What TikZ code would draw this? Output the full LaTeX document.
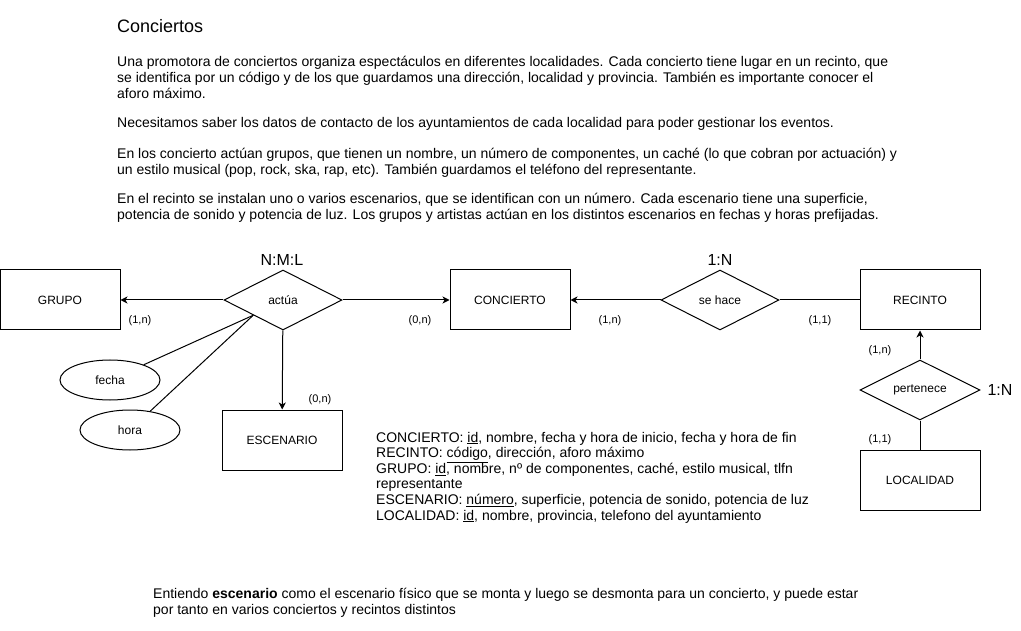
\documentclass[tikz,border=0pt]{standalone}
\usepackage{fontspec}
\setmainfont{Liberation Sans}
\usetikzlibrary{arrows.meta,calc,shapes.geometric}
\tikzset{
  entidad/.style={draw,line width=1pt,minimum width=120pt,minimum height=60pt,inner sep=0pt,font=\fontsize{12}{14}\selectfont},
  relacion/.style={draw,diamond,aspect=2,line width=1pt,minimum width=118pt,minimum height=60pt,inner sep=0pt,font=\fontsize{12}{14}\selectfont},
  atributo/.style={draw,ellipse,line width=1pt,minimum width=100pt,minimum height=40pt,inner sep=0pt,font=\fontsize{12}{14}\selectfont},
  card/.style={font=\fontsize{11}{13}\selectfont,inner sep=0pt},
  tipo/.style={font=\fontsize{16}{19}\selectfont,inner sep=0pt},
  flecha/.style={line width=1pt,-{Stealth[length=7pt,width=7pt,inset=2pt]}},
  linea/.style={line width=1pt},
  % anchor base = baseline of the last line
  texto/.style={font=\fontsize{14}{16}\selectfont,align=left,anchor=base west,inner sep=0pt}
}

\begin{document}
\begin{tikzpicture}[x=1pt,y=-1pt]
\useasboundingbox (0,0) rectangle (1021,631);
% enunciado
\node[font=\fontsize{18}{21}\selectfont,anchor=base west,inner sep=0pt] (titulo) at (117,33) {Conciertos};
\node[texto] (p1) at (117,99) {Una promotora de conciertos organiza espectáculos en diferentes localidades. Cada concierto tiene lugar en un recinto, que\\
se identifica por un código y de los que guardamos una dirección, localidad y provincia. También es importante conocer el\\
aforo máximo.};
\node[texto] (p2) at (117,128) {Necesitamos saber los datos de contacto de los ayuntamientos de cada localidad para poder gestionar los eventos.};
\node[texto] (p3) at (117,175) {En los concierto actúan grupos, que tienen un nombre, un número de componentes, un caché (lo que cobran por actuación) y\\
un estilo musical (pop, rock, ska, rap, etc). También guardamos el teléfono del representante.};
\node[texto] (p4) at (117,220) {En el recinto se instalan uno o varios escenarios, que se identifican con un número. Cada escenario tiene una superficie,\\
potencia de sonido y potencia de luz. Los grupos y artistas actúan en los distintos escenarios en fechas y horas prefijadas.};

% entidades
\node[entidad] (grupo) at (60,300) {GRUPO};
\node[entidad] (concierto) at (510,300) {CONCIERTO};
\node[entidad] (recinto) at (920,300) {RECINTO};
\node[entidad] (escenario) at (282,440) {ESCENARIO};
\node[entidad] (localidad) at (920,480) {LOCALIDAD};

% relaciones
\node[relacion] (actua) at (283,300) {actúa};
\node[relacion] (sehace) at (720,300) {se hace};
\node[relacion,minimum width=120pt] (pertenece) at (920,390) {pertenece};

% atributos de actua
\node[atributo] (fecha) at (110,380) {fecha};
\node[atributo] (hora) at (130,430) {hora};
\coordinate (actuasw) at ($(actua.west)!0.5!(actua.south)$);
\draw[linea] (fecha) -- (actuasw);
\draw[linea] (hora) -- (actuasw);

% conectores
\draw[flecha] (actua) -- (grupo);
\draw[flecha] (actua) -- (concierto);
\draw[flecha] (actua) -- (escenario);
\draw[flecha] (sehace) -- (concierto);
\draw[linea] (sehace) -- (recinto);
\draw[flecha] (pertenece) -- (recinto);
\draw[linea] (pertenece) -- (localidad);

% cardinalidades
\foreach \x/\y/\txt [count=\i] in {140/321/{(1,n)}, 420/321/{(0,n)}, 320/400/{(0,n)}, 610/321/{(1,n)}, 820/321/{(1,1)}, 880/351/{(1,n)}, 880/440/{(1,1)}}
  \node[card] (card\i) at (\x,\y) {\txt};
\node[tipo] (tactua) at (282,260) {N:M:L};
\node[tipo] (tsehace) at (720,260) {1:N};
\node[tipo] (tpertenece) at (1000,390) {1:N};

% atributos de cada entidad
\node[texto,font=\fontsize{14}{15.6}\selectfont] (attrs) at (376,520) {CONCIERTO: \underline{id}, nombre, fecha y hora de inicio, fecha y hora de fin\\
RECINTO: \underline{código}, dirección, aforo máximo\\
GRUPO: \underline{id}, nombre, nº de componentes, caché, estilo musical, tlfn\\
representante\\
ESCENARIO: \underline{número}, superficie, potencia de sonido, potencia de luz\\
LOCALIDAD: \underline{id}, nombre, provincia, telefono del ayuntamiento};

% nota
\node[texto] (nota) at (153,614) {Entiendo \textbf{escenario} como el escenario físico que se monta y luego se desmonta para un concierto, y puede estar\\
por tanto en varios conciertos y recintos distintos};
\end{tikzpicture}
\end{document}
